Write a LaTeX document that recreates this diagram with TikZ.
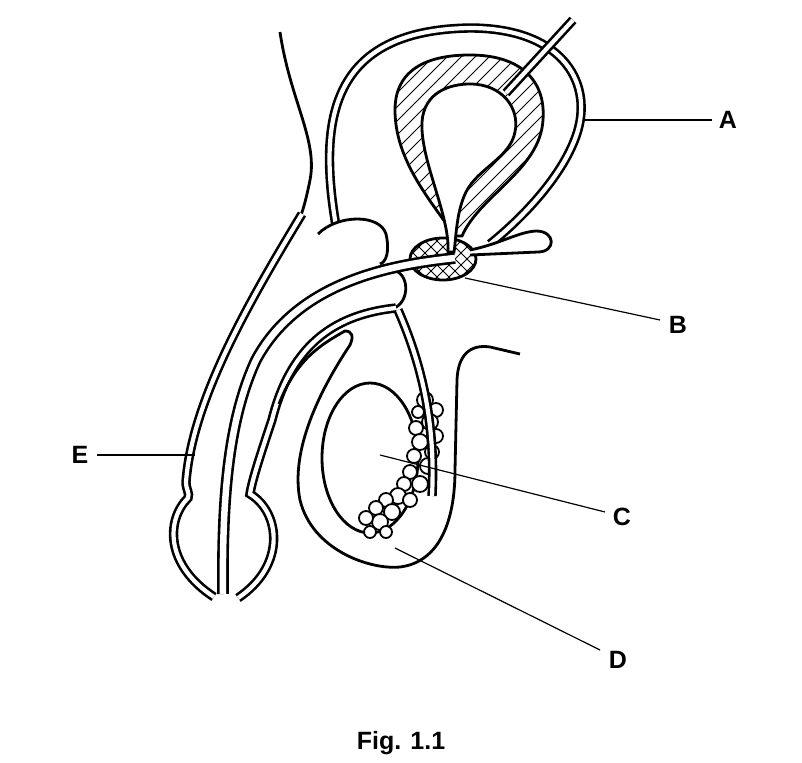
\documentclass[tikz,border=0pt]{standalone}
\usepackage{fontspec}
\setmainfont{Liberation Sans}
\begin{document}
\begin{tikzpicture}[x=1pt,y=-1pt,
  wall/.style={line width=2.8pt},
  tube/.style={draw=black,line width=2.6pt,double=white,double distance=4.2pt},
  wide/.style={draw=black,line width=2.6pt,double=white,double distance=6.5pt},
  hatch/.style={line width=1pt},
  pointer/.style={line width=1.2pt},
  lbl/.style={font=\fontsize{25}{27}\selectfont\bfseries}
]
\useasboundingbox (0,0) rectangle (802,762);
% body outline
\draw[wall] (280,32) .. controls (290,100) and (318,140) .. (310,180) .. controls (306,200) and (303,210) .. (300,218);
% big loop
\draw[tube] (336,226) .. controls (318,120) and (330,30) .. (470,28) .. controls (560,28) and (592,80) .. (578,130) .. controls (565,175) and (520,220) .. (490,244);
% prostate
\begin{scope}
\clip (443,259) ellipse [x radius=33,y radius=21];
\foreach \k in {-60,-48,...,60} {
  \draw[hatch] (443+\k-30,289) -- (443+\k+30,229);
  \draw[hatch] (443+\k-30,229) -- (443+\k+30,289);
}
\end{scope}
\draw[wall] (443,259) ellipse [x radius=33,y radius=21];
% bladder
\begin{scope}
\clip (455,236) .. controls (430,200) and (395,160) .. (395,110) .. controls (395,62) and (440,55) .. (470,55) .. controls (520,55) and (546,80) .. (543,120) .. controls (540,170) and (480,195) .. (462,236) -- cycle;
\foreach \k in {300,314,...,720}
  \draw[hatch] (\k-200,250) -- (\k,50);
\end{scope}
\draw[wall] (455,236) .. controls (430,200) and (395,160) .. (395,110) .. controls (395,62) and (440,55) .. (470,55) .. controls (520,55) and (546,80) .. (543,120) .. controls (540,170) and (480,195) .. (462,236) -- cycle;
\draw[wall,fill=white] (448,252) .. controls (450,215) and (420,160) .. (422,122) .. controls (424,92) and (450,84) .. (470,84) .. controls (502,84) and (520,108) .. (515,132) .. controls (510,158) and (478,168) .. (466,192) .. controls (456,212) and (456,240) .. (454,252) -- cycle;
% ureter
\draw[tube] (573,20) -- (506,93);
% seminal vesicle
\draw[wall,fill=white] (470,250) .. controls (500,244) and (518,232) .. (536,231) .. controls (556,231) and (556,252) .. (538,252) -- (470,255);
% erectile bodies
\draw[wall,fill=white] (318,234) .. controls (338,214) and (380,214) .. (386,234) .. controls (390,252) and (386,262) .. (380,264);
\draw[wall,fill=white] (392,270) .. controls (410,272) and (410,302) .. (394,308);
% penis wall and urethra
\draw[tube] (302,214) .. controls (250,300) and (192,400) .. (186,482) .. controls (186,490) and (190,493) .. (188,498) .. controls (166,520) and (165,565) .. (214,597);
\draw[wide] (455,258) .. controls (400,264) and (300,278) .. (256,360) .. controls (228,420) and (222,500) .. (223,594);
\draw[tube] (396,308) .. controls (340,314) and (292,340) .. (272,420) .. controls (262,450) and (252,480) .. (250,494) .. controls (280,512) and (287,565) .. (238,598);
% scrotum and fold
\draw[wall] (279,404) .. controls (296,360) and (320,345) .. (345,331) .. controls (352,331) and (354,336) .. (350,345) .. controls (320,390) and (290,450) .. (300,500) .. controls (312,550) and (370,570) .. (400,567) .. controls (440,562) and (455,520) .. (455,470) -- (457,380) .. controls (458,355) and (470,344) .. (490,347) -- (520,354);
% testis
\draw[wall] (370,458) ellipse [x radius=48,y radius=75];
% epididymis
\foreach \x/\y/\r in {425/400/8,436/410/7,418/412/6,430/422/8,416/428/7,436/436/7,420/442/8,432/452/7,414/456/7,428/466/8,410/472/7,420/484/8,404/484/7,398/496/8,410/500/7,386/500/7,392/512/8,376/508/7,380/522/8,366/518/7,370/532/6,386/532/6}
  \draw[line width=1.8pt,fill=white] (\x,\y) circle (\r);
% sperm duct
\draw[tube] (398,310) .. controls (420,360) and (436,420) .. (432,496);
% labels
\draw[pointer] (585,120) -- (712,120);
\node[lbl] (A) at (728,120) {A};
\draw[pointer] (465,278) -- (660,320);
\node[lbl] (B) at (678,325) {B};
\draw[pointer] (380,455) -- (605,512);
\node[lbl] (C) at (622,517) {C};
\draw[pointer] (395,548) -- (600,650);
\node[lbl] (D) at (618,660) {D};
\draw[pointer] (97,455) -- (195,455);
\node[lbl] (E) at (80,455) {E};
\node[lbl] (fig) at (401,743) {Fig. 1.1};
\end{tikzpicture}
\end{document}
